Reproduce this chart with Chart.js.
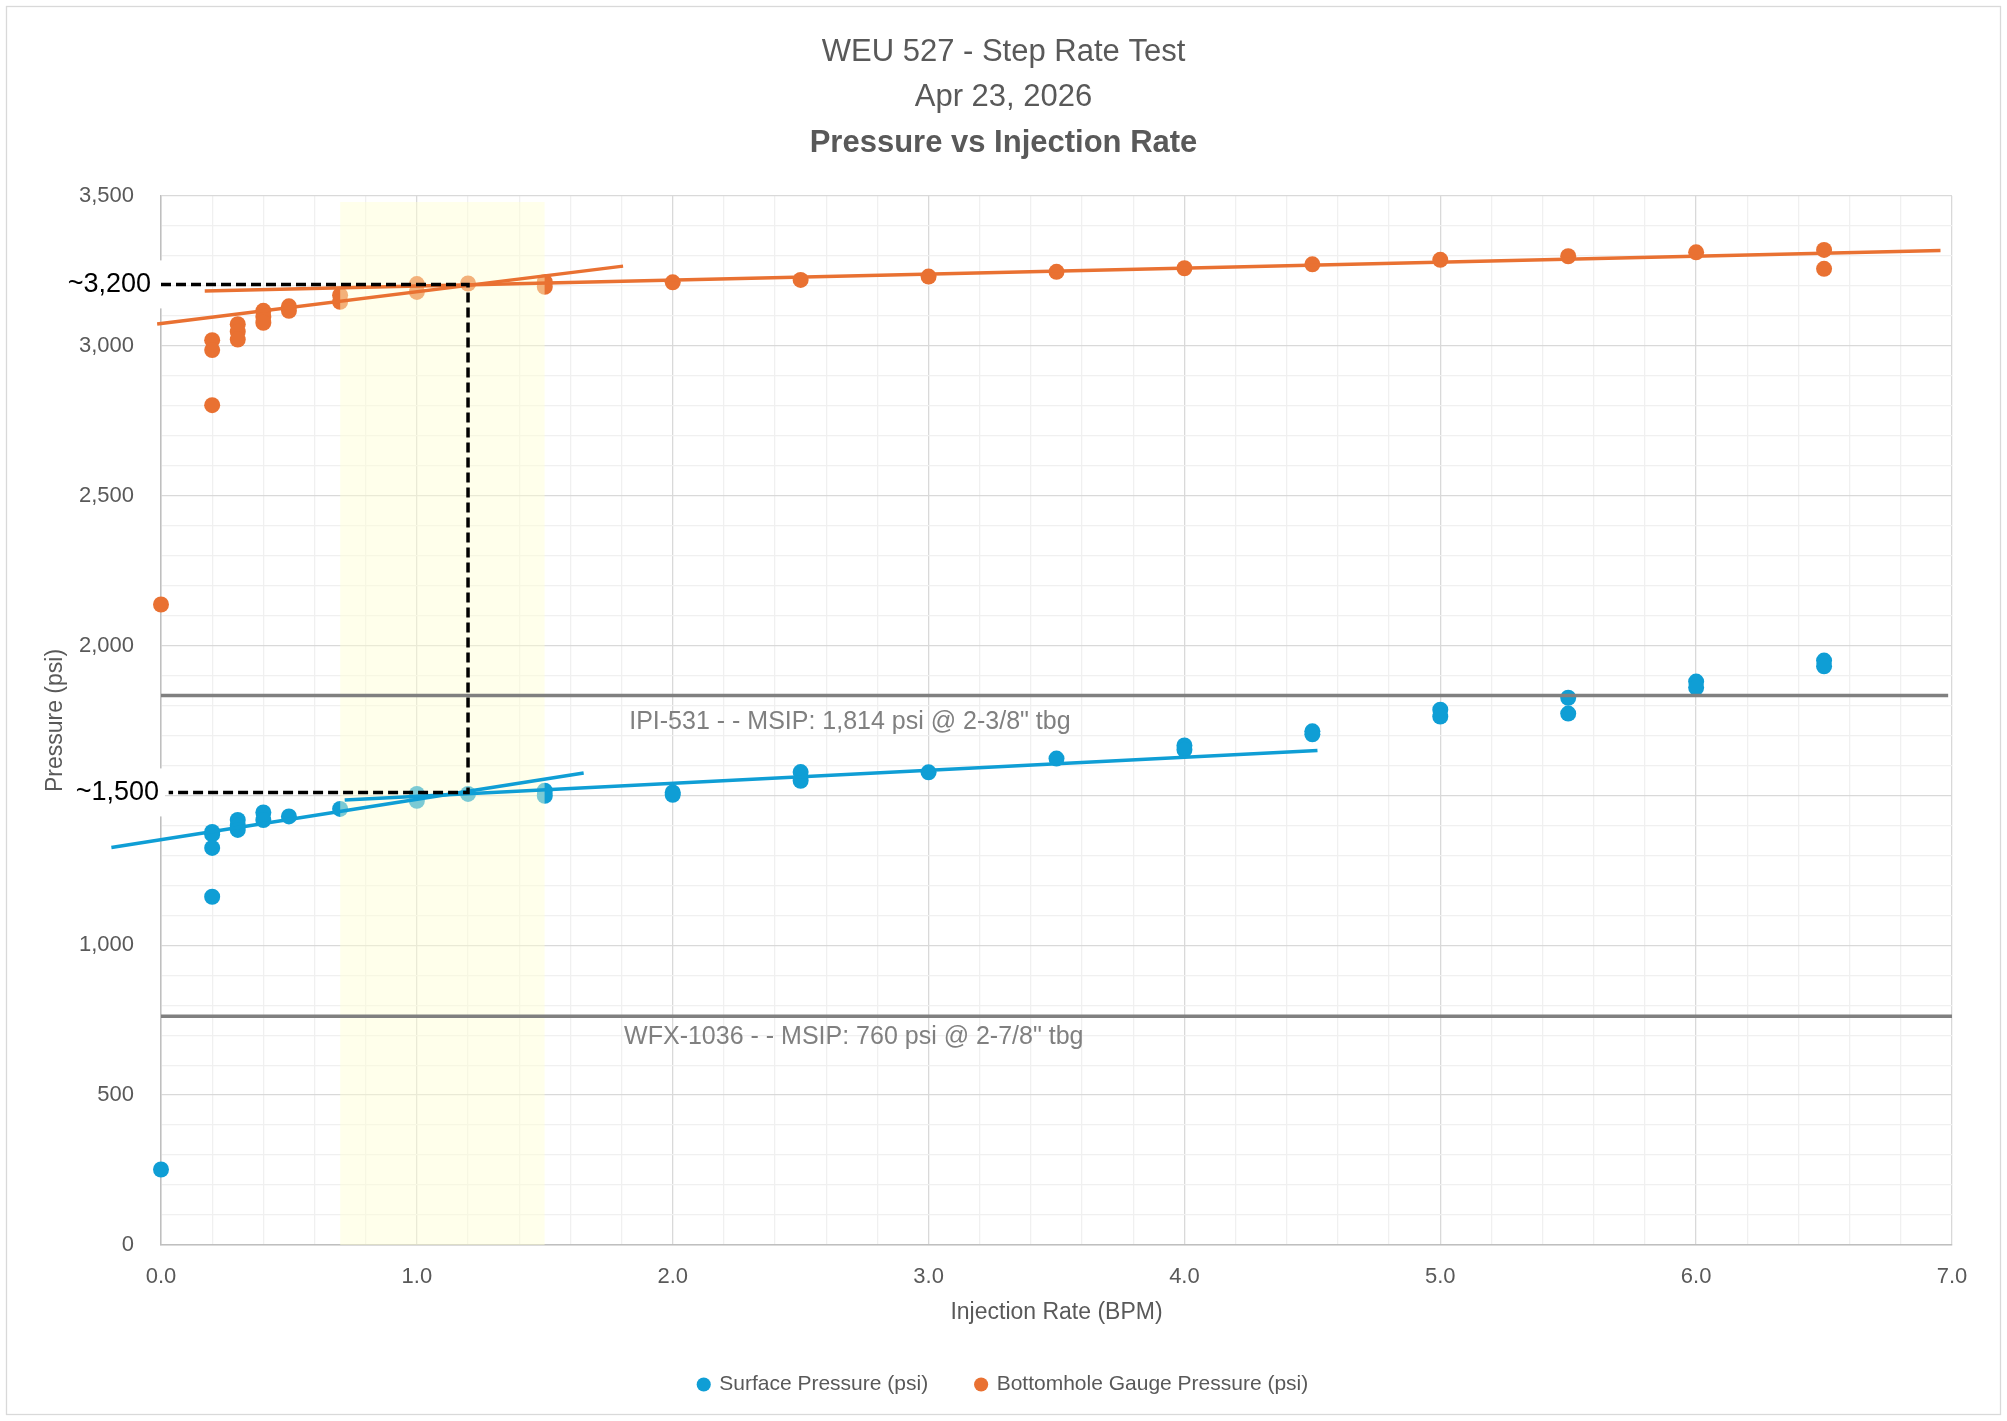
<!DOCTYPE html>
<html>
<head>
<meta charset="utf-8">
<title>WEU 527 - Step Rate Test</title>
<script src="https://cdn.jsdelivr.net/npm/chart.js@4.4.1/dist/chart.umd.min.js"></script>
<style>
  html, body { margin: 0; padding: 0; background: #ffffff; }
  canvas { display: block; }
</style>
</head>
<body>
<canvas id="myChart" width="2007" height="1421"></canvas>
<script>
// Step rate test readings (rate in BPM, pressure in psi)
const surfaceRate = [0.0, 0.2, 0.2, 0.2, 0.2, 0.3, 0.3, 0.3, 0.4, 0.4, 0.5, 0.7, 1.0, 1.0, 1.2, 1.5, 1.5, 2.0, 2.0, 2.5, 2.5, 3.0, 3.5, 4.0, 4.0, 4.5, 4.5, 5.0, 5.0, 5.5, 5.5, 6.0, 6.0, 6.5, 6.5];
const surfacePsi = [252, 1378, 1370, 1325, 1162, 1418, 1399, 1385, 1443, 1418, 1430, 1455, 1505, 1482, 1505, 1516, 1499, 1510, 1502, 1578, 1549, 1577, 1623, 1667, 1652, 1714, 1704, 1786, 1763, 1826, 1773, 1880, 1860, 1950, 1931];

const bottomRate = [0.0, 0.2, 0.2, 0.2, 0.3, 0.3, 0.3, 0.4, 0.4, 0.4, 0.5, 0.5, 0.7, 0.7, 1.0, 1.0, 1.2, 1.5, 1.5, 2.0, 2.5, 3.0, 3.5, 4.0, 4.5, 5.0, 5.5, 6.0, 6.5, 6.5];
const bottomPsi = [2137, 3019, 2986, 2802, 3072, 3047, 3021, 3117, 3097, 3077, 3132, 3117, 3169, 3147, 3206, 3180, 3208, 3213, 3197, 3212, 3220, 3231, 3247, 3259, 3272, 3287, 3299, 3312, 3320, 3257];

// hand-drawn trend lines (end points)
const bhSteepRate = [-0.015, 1.806];
const bhSteepPsi = [3073, 3266];
const bhFlatRate = [0.171, 6.955];
const bhFlatPsi = [3183, 3318];
const surfSteepRate = [-0.194, 1.652];
const surfSteepPsi = [1326, 1575];
const surfFlatRate = [0.718, 4.52];
const surfFlatPsi = [1485, 1650];

// break-over picks
const pickRate = [0.0, 1.2, 1.2, 0.03];
const pickPsi = [3205, 3205, 1510, 1510];
const pickLabels = ['~3,200', '~1,500'];
const pickLabelPsi = [3205, 1510];

// highlighted rate window
const bandRate = [0.7, 1.5];
const bandTop = 3480;

// MSIP reference lines
const msipPsi = [1833, 763];
const msipLabels = ['IPI-531 - - MSIP: 1,814 psi @ 2-3/8" tbg', 'WFX-1036 - - MSIP: 760 psi @ 2-7/8" tbg'];
const msipLabelRate = [1.83, 1.81];
const msipLabelPsi = [1744, 692];

// axis settings
const xMin = 0, xMax = 7, xMinor = 0.2;
const yMin = 0, yMax = 3500, yMinor = 100, yMajor = 500;

const toPoints = (xs, ys) => xs.map((x, i) => ({x: x, y: ys[i]}));

const SANS = "'Liberation Sans', Arial, sans-serif";
const BLUE = '#0F9ED5';
const ORANGE = '#E97132';

Chart.defaults.font.family = SANS;
Chart.defaults.color = '#595959';

// white background and outer frame
const framePlugin = {
    id: 'frame',
    beforeDraw(chart) {
        const ctx = chart.ctx;
        ctx.save();
        ctx.fillStyle = '#ffffff';
        ctx.fillRect(0, 0, chart.width, chart.height);
        ctx.strokeStyle = '#d9d9d9';
        ctx.lineWidth = 1.3;
        ctx.strokeRect(6.5, 6.5, chart.width - 13, chart.height - 13);
        ctx.restore();
    }
};

// text labels tied to data coordinates
const labelPlugin = {
    id: 'labels',
    beforeDatasetsDraw(chart) {
        const ctx = chart.ctx;
        const y = chart.scales.y;
        const left = chart.chartArea.left;
        ctx.save();
        ctx.font = '27px ' + SANS;
        ctx.textAlign = 'right';
        ctx.textBaseline = 'middle';
        pickLabels.forEach((txt, i) => {
            const py = y.getPixelForValue(pickLabelPsi[i]);
            const right = i === 0 ? left - 10 : left - 2;
            const w = ctx.measureText(txt).width;
            ctx.fillStyle = '#ffffff';
            ctx.fillRect(right - w - 4, py - 24, w + 4 + (left + 4 - right), 48);
            ctx.fillStyle = '#000000';
            ctx.fillText(txt, right, py);
        });
        ctx.restore();
    },
    afterDatasetsDraw(chart) {
        const ctx = chart.ctx;
        const x = chart.scales.x, y = chart.scales.y;
        ctx.save();
        ctx.font = '25px ' + SANS;
        ctx.fillStyle = '#808080';
        ctx.textAlign = 'left';
        ctx.textBaseline = 'middle';
        msipLabels.forEach((txt, i) => {
            ctx.fillText(txt, x.getPixelForValue(msipLabelRate[i]), y.getPixelForValue(msipLabelPsi[i]));
        });
        ctx.restore();
    }
};

const isWhole = (v, step) => Math.abs(v / step - Math.round(v / step)) < 1e-6;

const ctx = document.getElementById('myChart').getContext('2d');
const myChart = new Chart(ctx, {
    type: 'scatter',
    data: {
        datasets: [
            { // 0 break-over pick lines
                label: 'pick',
                data: toPoints(pickRate, pickPsi),
                showLine: true, borderColor: '#000000', borderWidth: 3.5, borderDash: [10, 5],
                pointRadius: 0, clip: false
            },
            { // 1
                label: 'msip1',
                data: toPoints([xMin, xMax - 0.015], [msipPsi[0], msipPsi[0]]),
                showLine: true, borderColor: '#808080', borderWidth: 3.5, pointRadius: 0
            },
            { // 2
                label: 'msip2',
                data: toPoints([xMin, xMax], [msipPsi[1], msipPsi[1]]),
                showLine: true, borderColor: '#808080', borderWidth: 3.5, pointRadius: 0
            },
            { // 3
                label: 'bh steep',
                data: toPoints(bhSteepRate, bhSteepPsi),
                showLine: true, borderColor: ORANGE, borderWidth: 3.5, pointRadius: 0, clip: false
            },
            { // 4
                label: 'bh flat',
                data: toPoints(bhFlatRate, bhFlatPsi),
                showLine: true, borderColor: ORANGE, borderWidth: 3.5, pointRadius: 0
            },
            { // 5
                label: 'surf steep',
                data: toPoints(surfSteepRate, surfSteepPsi),
                showLine: true, borderColor: BLUE, borderWidth: 3.5, pointRadius: 0, clip: false
            },
            { // 6
                label: 'surf flat',
                data: toPoints(surfFlatRate, surfFlatPsi),
                showLine: true, borderColor: BLUE, borderWidth: 3.5, pointRadius: 0
            },
            { // 7 highlighted window, drawn over the points
                label: 'band',
                data: toPoints(bandRate, [bandTop, bandTop]),
                showLine: true, borderWidth: 0, borderColor: 'rgba(0,0,0,0)',
                backgroundColor: 'rgba(255,255,210,0.45)', fill: 'origin', pointRadius: 0
            },
            {
                label: 'Surface Pressure (psi)',
                data: toPoints(surfaceRate, surfacePsi),
                backgroundColor: BLUE, borderColor: BLUE, pointRadius: 8, pointBorderWidth: 0, clip: false
            },
            {
                label: 'Bottomhole Gauge Pressure (psi)',
                data: toPoints(bottomRate, bottomPsi),
                backgroundColor: ORANGE, borderColor: ORANGE, pointRadius: 8, pointBorderWidth: 0, clip: false
            }
        ]
    },
    options: {
        responsive: false,
        devicePixelRatio: 1,
        animation: false,
        events: [],
        layout: { padding: { top: 6, left: 6, right: 6, bottom: 16 } },
        plugins: {
            title: {
                display: true,
                text: ['WEU 527 - Step Rate Test', 'Apr 23, 2026'],
                color: '#595959',
                font: { family: SANS, size: 31, weight: 'normal', lineHeight: 45 / 31 },
                padding: { top: 24, bottom: 0 }
            },
            subtitle: {
                display: true,
                text: 'Pressure vs Injection Rate',
                color: '#595959',
                font: { family: SANS, size: 31, weight: 'bold', lineHeight: 45 / 31 },
                padding: { top: 1, bottom: 30 }
            },
            legend: {
                position: 'bottom',
                labels: {
                    filter: (item) => item.datasetIndex >= 8,
                    usePointStyle: true,
                    pointStyle: 'circle',
                    boxHeight: 10,
                    boxWidth: 10,
                    padding: 48,
                    color: '#595959',
                    font: { family: SANS, size: 21 }
                }
            },
            tooltip: { enabled: false }
        },
        scales: {
            x: {
                type: 'linear',
                min: xMin, max: xMax,
                afterFit: (scale) => { scale.height = 81; },
                ticks: {
                    stepSize: xMinor, autoSkip: false, maxRotation: 0, padding: 19,
                    color: '#595959', font: { size: 22 },
                    callback: (v) => isWhole(v, 1) ? v.toFixed(1) : ''
                },
                grid: {
                    drawTicks: false, lineWidth: 1.3,
                    color: (c) => isWhole(c.tick.value, 1) ? '#d9d9d9' : '#f0f0f0'
                },
                border: { display: true, color: '#bfbfbf', width: 1.5 },
                title: {
                    display: true, text: 'Injection Rate (BPM)', color: '#595959',
                    font: { size: 23, lineHeight: 1.2 }, padding: { top: 0, bottom: 0 }
                }
            },
            y: {
                type: 'linear',
                position: 'left',
                min: yMin, max: yMax,
                afterFit: (scale) => { scale.width = 155; },
                ticks: {
                    stepSize: yMinor, autoSkip: false, padding: 27,
                    color: '#595959', font: { size: 22 },
                    callback: (v) => isWhole(v, yMajor) ? v.toLocaleString('en-US') : ''
                },
                grid: {
                    drawTicks: false, lineWidth: 1.3,
                    color: (c) => isWhole(c.tick.value, yMajor) ? '#d9d9d9' : '#f0f0f0'
                },
                border: { display: true, color: '#bfbfbf', width: 1.5 },
                title: {
                    display: true, text: 'Pressure (psi)', color: '#595959',
                    font: { size: 23, lineHeight: 1.2 }, padding: { top: 36, bottom: 0 }
                }
            },
            yRight: {
                type: 'linear',
                position: 'right',
                min: yMin, max: yMax,
                afterFit: (scale) => { scale.width = 49; },
                ticks: { display: false },
                grid: { display: false, drawTicks: false },
                border: { display: false }
            }
        }
    },
    plugins: [framePlugin, labelPlugin]
});
</script>
</body>
</html>
